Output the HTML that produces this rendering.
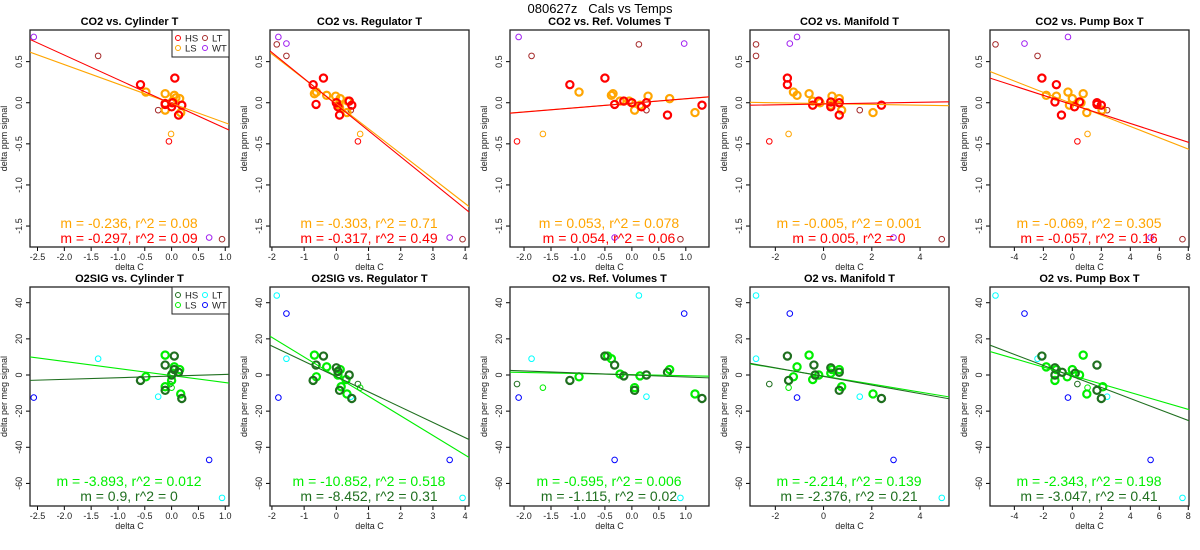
<!DOCTYPE html>
<html><head><meta charset="utf-8"><style>
body{margin:0;background:#fff}
svg{display:block;font-family:"Liberation Sans",Arial,sans-serif}
</style></head><body>
<svg id="c" width="1200" height="550" xmlns="http://www.w3.org/2000/svg">
<text x="600" y="13" font-size="13" text-anchor="middle" style="white-space:pre">080627z   Cals vs Temps</text>
</svg>
<script>
// ---- data ----
const panelTitles = ["CO2 vs. Cylinder T","CO2 vs. Regulator T","CO2 vs. Ref. Volumes T","CO2 vs. Manifold T","CO2 vs. Pump Box T",
 "O2SIG vs. Cylinder T","O2SIG vs. Regulator T","O2 vs. Ref. Volumes T","O2 vs. Manifold T","O2 vs. Pump Box T"];
const xLims = [[-2.64,1.07],[-2.06,4.12],[-2.26,1.43],[-3.05,5.2],[-5.68,8.05]];
const xTicks = [[-2.5,-2.0,-1.5,-1.0,-0.5,0.0,0.5,1.0],[-2,-1,0,1,2,3,4],[-2.0,-1.5,-1.0,-0.5,0.0,0.5,1.0],[-2,0,2,4],[-4,-2,0,2,4,6,8]];
const xTickLabels = [["-2.5","-2.0","-1.5","-1.0","-0.5","0.0","0.5","1.0"],["-2","-1","0","1","2","3","4"],["-2.0","-1.5","-1.0","-0.5","0.0","0.5","1.0"],["-2","0","2","4"],["-4","-2","0","2","4","6","8"]];
const yLimCO2 = [-1.755,0.885];
const yTicksCO2 = [0.5,0.0,-0.5,-1.0,-1.5];
const yTickLabelsCO2 = ["0.5","0.0","-0.5","-1.0","-1.5"];
const yLimO2 = [-72.5,48.7];
const yTicksO2 = [40,20,0,-20,-40,-60];
const yTickLabelsO2 = ["40","20","0","-20","-40","-60"];

// CO2 points per panel
const co2HS = [
 [[-0.58,0.22],[0.06,0.30],[-0.12,-0.02],[0,-0.05],[0.13,-0.15],[0.19,-0.03],[-0.12,-0.01],[0.02,0]],
 [[-0.72,0.22],[-0.4,0.30],[-0.63,-0.02],[0,0],[0.05,-0.05],[0.1,-0.15],[0.4,0.02],[0.48,-0.03]],
 [[-1.15,0.22],[-0.5,0.30],[-0.32,-0.02],[-0.15,0.02],[0,0],[0.18,-0.05],[0.27,0],[0.66,-0.15],[1.3,-0.03]],
 [[-1.5,0.30],[-1.5,0.22],[-0.45,-0.03],[-0.2,0.02],[0.3,0.01],[0.3,-0.05],[0.65,0],[0.65,-0.15],[2.4,-0.03]],
 [[-2.1,0.30],[-1.1,0.22],[-1.2,0.01],[-0.75,-0.15],[0.15,-0.05],[0.5,0.01],[1.7,-0.02],[1.7,0],[2.0,-0.03]]];
const co2LS = [
 [[-0.48,0.13],[-0.12,0.11],[-0.12,-0.09],[0.05,0.09],[0.15,0.05],[0.02,0.02],[0.17,-0.12],[0,0],[0.08,0.06]],
 [[-0.68,0.11],[-0.62,0.13],[-0.3,0.09],[-0.02,0.08],[0.12,0.05],[0.08,-0.02],[0.33,-0.12],[0.35,0.02],[0.1,-0.06]],
 [[-0.98,0.13],[-0.38,0.09],[-0.35,0.11],[-0.22,0.02],[-0.05,0.02],[0.05,-0.09],[0.15,-0.03],[0.3,0.08],[0.7,0.05],[1.17,-0.12]],
 [[-1.25,0.13],[-1.1,0.09],[-0.6,0.11],[-0.45,0.02],[-0.15,0],[0.35,0.08],[0.65,0.05],[0.75,-0.09],[2.05,-0.12],[0.3,-0.03]],
 [[-1.8,0.09],[-1.1,0.08],[-0.3,0.13],[0,0.05],[-0.2,-0.03],[0.6,0],[0.75,0.11],[1.0,-0.12],[2.05,-0.09]]];
const co2LT = [
 [[-1.37,0.57],[-0.25,-0.09],[0.94,-1.66]],
 [[-1.85,0.71],[-1.55,0.57],[0.45,-0.09],[3.92,-1.66]],
 [[-1.86,0.57],[0.13,0.71],[0.27,-0.09],[0.9,-1.66]],
 [[-2.8,0.71],[-2.8,0.57],[1.5,-0.09],[4.9,-1.66]],
 [[-5.3,0.71],[-2.4,0.57],[2.4,-0.09],[7.6,-1.66]]];
const co2WT = [
 [[-2.57,0.80],[0.70,-1.64]],
 [[-1.8,0.80],[-1.55,0.72],[3.52,-1.64]],
 [[-2.1,0.80],[0.97,0.72],[-0.32,-1.64]],
 [[-1.1,0.80],[-1.4,0.72],[2.9,-1.64]],
 [[-0.3,0.80],[-3.3,0.72],[5.4,-1.64]]];
const co2HSsmall = [[-0.05,-0.47],[0.67,-0.47],[-2.13,-0.47],[-2.25,-0.47],[0.35,-0.47]];
const co2LSsmall = [[-0.01,-0.38],[0.74,-0.38],[-1.65,-0.38],[-1.45,-0.38],[1.05,-0.38]];

// O2 points per panel
const o2HS = [
 [[-0.58,-3],[-0.12,5.5],[0.05,10.5],[-0.12,-8.5],[0.19,-13],[0.13,1.5],[0,0],[0.05,3]],
 [[-0.72,-3],[-0.63,5.5],[-0.4,10.5],[0,4],[0.1,-8.5],[0.48,-13],[0.4,0],[0.05,2]],
 [[-1.15,-3],[-0.5,10.5],[-0.15,-0.5],[0.05,-8.5],[0.66,1.5],[1.3,-13],[0.27,0],[-0.32,5.5]],
 [[-1.5,10.5],[-1.45,-3],[-0.4,5.5],[-0.35,0],[0.3,4],[0.65,1.5],[0.65,-8.5],[2.4,-13]],
 [[-2.1,10.5],[-1.2,4],[-1.2,0],[-0.7,1.5],[0.2,1],[1.7,5.5],[1.7,-8.5],[2.0,-13]]];
const o2LS = [
 [[-0.12,11],[-0.48,-1],[-0.12,-6.5],[0.05,4.5],[0.15,3],[0.17,-10.5],[0,-3],[0.02,1]],
 [[-0.68,11],[-0.62,-1],[-0.3,4.5],[0.12,3],[0.33,-10.5],[0.3,-2.5],[0.05,0],[0.15,-6.5]],
 [[-0.98,-1],[-0.38,9],[0.15,-0.5],[0.05,-7],[0.7,3],[1.17,-10.5],[-0.22,0.5],[-0.45,10.5]],
 [[-0.6,11],[-1.1,4.5],[-1.25,-1],[-0.45,-2.5],[-0.2,0],[0.3,1],[0.35,3],[0.65,3],[0.75,-6.5],[2.05,-10.5]],
 [[-1.8,4.5],[-1.1,3],[-1.2,-3],[-0.35,-1],[0,3],[0.5,0],[0.75,11],[1.0,-10.5],[2.1,-6.5]]];
const o2LT = [
 [[-1.37,9],[-0.25,-12],[0.94,-68]],
 [[-1.85,44],[-1.55,9],[0.45,-12],[3.92,-68]],
 [[0.13,44],[-1.86,9],[0.27,-12],[0.9,-68]],
 [[-2.8,44],[-2.8,9],[1.5,-12],[4.9,-68]],
 [[-5.3,44],[-2.4,9],[2.4,-12],[7.6,-68]]];
const o2WT = [
 [[-2.57,-12.5],[0.70,-47]],
 [[-1.55,34],[-1.8,-12.5],[3.52,-47]],
 [[0.97,34],[-2.1,-12.5],[-0.32,-47]],
 [[-1.4,34],[-1.1,-12.5],[2.9,-47]],
 [[-3.3,34],[-0.3,-12.5],[5.4,-47]]];
const o2HSsmall = [[-0.03,-5],[0.67,-5],[-2.13,-5],[-2.25,-5],[0.35,-5]];
const o2LSsmall = [[0,-7],[0.74,-7],[-1.65,-7],[-1.45,-7],[1.05,-7]];

// fit lines: slope, intercept
const co2SlopeLS = [-0.236,-0.303,0.053,-0.005,-0.069];
const co2InterLS = [-0.008,-0.014,-0.005,-0.01,-0.012];
const co2SlopeHS = [-0.297,-0.317,0.054,0.005,-0.057];
const co2InterHS = [-0.014,-0.023,-0.005,-0.015,-0.024];
const o2SlopeLS = [-3.893,-10.852,-0.595,-2.214,-2.343];
const o2InterLS = [-0.28,-0.9,0.2,-0.6,-0.3];
const o2SlopeHS = [0.9,-8.452,-1.115,-2.376,-3.047];
const o2InterHS = [-0.6,-0.9,0,-0.8,-0.8];
const co2TextLS = ["m = -0.236, r^2 = 0.08","m = -0.303, r^2 = 0.71","m = 0.053, r^2 = 0.078","m = -0.005, r^2 = 0.001","m = -0.069, r^2 = 0.305"];
const co2TextHS = ["m = -0.297, r^2 = 0.09","m = -0.317, r^2 = 0.49","m = 0.054, r^2 = 0.06","m = 0.005, r^2 = 0","m = -0.057, r^2 = 0.16"];
const o2TextLS = ["m = -3.893, r^2 = 0.012","m = -10.852, r^2 = 0.518","m = -0.595, r^2 = 0.006","m = -2.214, r^2 = 0.139","m = -2.343, r^2 = 0.198"];
const o2TextHS = ["m = 0.9, r^2 = 0","m = -8.452, r^2 = 0.31","m = -1.115, r^2 = 0.02","m = -2.376, r^2 = 0.21","m = -3.047, r^2 = 0.41"];

const NS="http://www.w3.org/2000/svg";
const svg=document.getElementById('c');
function mk(tag,attrs,parent){const e=document.createElementNS(NS,tag);for(const k in attrs)e.setAttribute(k,attrs[k]);(parent||svg).appendChild(e);return e;}

function drawPanel(idx,row){
  const col=idx;
  const L=240*col+30,R=240*col+229;
  const T=row===0?30:287,B=row===0?247:506;
  const xl=xLims[col];
  const yl=row===0?yLimCO2:yLimO2;
  const sx=v=>L+(v-xl[0])/(xl[1]-xl[0])*(R-L);
  const sy=v=>B-(v-yl[0])/(yl[1]-yl[0])*(B-T);
  const g=mk('g',{});
  
  
  const cpId='cp'+row+col;
  const cp=mk('clipPath',{id:cpId},g);mk('rect',{x:L,y:T,width:R-L,height:B-T},cp);
  const t=mk('text',{x:(L+R)/2,y:T-5,'font-size':11,'font-weight':'bold','text-anchor':'middle'},g);
  t.textContent=panelTitles[row*5+col];
  
  
  xTicks[col].forEach((v,i)=>{
    const x=sx(v);
    mk('line',{x1:x,x2:x,y1:B,y2:B+4,stroke:'#000'},g);
    const tl=mk('text',{x:x,y:B+13,'font-size':9,'text-anchor':'middle',fill:'#222'},g);
    tl.textContent=xTickLabels[col][i];
    
    
  });
  mk('line',{x1:sx(xTicks[col][0]),x2:sx(xTicks[col][xTicks[col].length-1]),y1:B,y2:B,stroke:'#000'},g);
  const xt=mk('text',{x:(L+R)/2,y:B+23,'font-size':9,'text-anchor':'middle',fill:'#222'},g);
  xt.textContent='delta C';
  
  
  const yt=row===0?yTicksCO2:yTicksO2, ytl=row===0?yTickLabelsCO2:yTickLabelsO2;
  yt.forEach((v,i)=>{
    const y=sy(v);
    mk('line',{x1:L-4,x2:L,y1:y,y2:y,stroke:'#000'},g);
    const tl=mk('text',{x:L-8,y:y,'font-size':9,'text-anchor':'middle',fill:'#222',transform:`rotate(-90 ${L-8} ${y})`},g);
    tl.textContent=ytl[i];
    
    
  });
  mk('line',{x1:L,x2:L,y1:sy(yt[0]),y2:sy(yt[yt.length-1]),stroke:'#000'},g);
  const yc=(T+B)/2;
  const ya=mk('text',{x:L-23,y:yc,'font-size':9,'text-anchor':'middle',fill:'#222',transform:`rotate(-90 ${L-23} ${yc})`},g);
  ya.textContent=row===0?'delta ppm signal':'delta per meg signal';
  
  
  const fr=mk('rect',{x:L,y:T,width:R-L,height:B-T,fill:'none',stroke:'#222','stroke-width':1.3},g);
  
  
  const inner=mk('g',{'clip-path':`url(#${cpId})`},g);
  const cols=row===0?{HS:'#ff0000',LS:'#ffa500',LT:'#a52a2a',WT:'#a020f0'}:{HS:'#1f6f1f',LS:'#00ee00',LT:'#00ffff',WT:'#0000ff'};
  const sets=row===0?[[co2LT[col],cols.LT,false,'lt'],[co2WT[col],cols.WT,false,'wt'],[[co2HSsmall[col]],cols.HS,false,'hs-small'],[[co2LSsmall[col]],cols.LS,false,'ls-small'],[co2LS[col],cols.LS,true,'ls'],[co2HS[col],cols.HS,true,'hs']]
    :[[o2LT[col],cols.LT,false,'lt'],[o2WT[col],cols.WT,false,'wt'],[[o2HSsmall[col]],cols.HS,false,'hs-small'],[[o2LSsmall[col]],cols.LS,false,'ls-small'],[o2LS[col],cols.LS,true,'ls'],[o2HS[col],cols.HS,true,'hs']];
  sets.forEach(([pts,c,big,nm])=>{
    pts.forEach(p=>{
      const ci=mk('circle',{cx:sx(p[0]),cy:sy(p[1]),r:big?3.6:2.8,fill:'none',stroke:c,'stroke-width':big?2.2:1},inner);
      
      
    });
  });
  const lines=row===0?[[co2SlopeLS[col],co2InterLS[col],cols.LS,'fit-line-ls'],[co2SlopeHS[col],co2InterHS[col],cols.HS,'fit-line-hs']]
    :[[o2SlopeLS[col],o2InterLS[col],cols.LS,'fit-line-ls'],[o2SlopeHS[col],o2InterHS[col],cols.HS,'fit-line-hs']];
  lines.forEach(([m,b,c,nm])=>{
    const ln=mk('line',{x1:sx(xl[0]),y1:sy(m*xl[0]+b),x2:sx(xl[1]),y2:sy(m*xl[1]+b),stroke:c,'stroke-width':1.1},inner);
    
    
  });
  const ty1=row===0?228:486, ty2=row===0?243:501;
  const a1=mk('text',{x:L+99,y:ty1,'font-size':14,'text-anchor':'middle',fill:cols.LS},g);
  a1.textContent=row===0?co2TextLS[col]:o2TextLS[col];
  
  
  const a2=mk('text',{x:L+99,y:ty2,'font-size':14,'text-anchor':'middle',fill:cols.HS},g);
  a2.textContent=row===0?co2TextHS[col]:o2TextHS[col];
  
  
  if(col===0){
    const lg=mk('g',{},g);
    
    
    mk('rect',{x:172,y:T,width:57,height:27,fill:'#fff',stroke:'#222'},lg);
    [['HS',cols.HS,178,T+8],['LT',cols.LT,205,T+8],['LS',cols.LS,178,T+18],['WT',cols.WT,205,T+18]].forEach(([n,c,x,y])=>{
      mk('circle',{cx:x,cy:y,r:2.5,fill:'none',stroke:c,'stroke-width':1},lg);
      const lt=mk('text',{x:x+7,y:y+3.5,'font-size':9.5,fill:'#222'},lg);
      lt.textContent=n;
      
      
    });
  }
}
for(let r=0;r<2;r++)for(let c=0;c<5;c++)drawPanel(c,r);
</script>
</body></html>
